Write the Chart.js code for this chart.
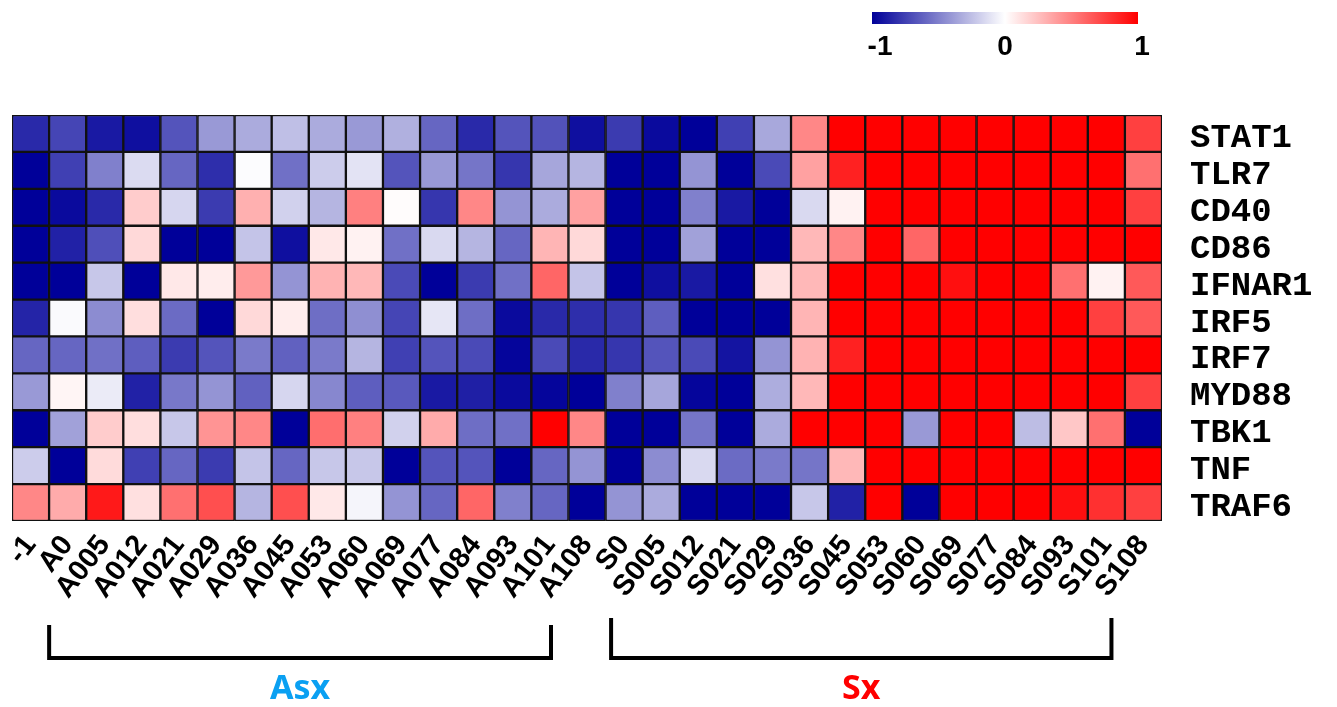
<!DOCTYPE html>
<html>
<head>
<meta charset="utf-8">
<style>
  html, body { margin: 0; padding: 0; background: #fff; }
</style>
</head>
<body>
<canvas id="heat" width="1337" height="707"></canvas>
<script src="https://cdn.jsdelivr.net/npm/chart.js@4.4.0/dist/chart.umd.min.js"></script>
<script>
// samples (columns) and genes (rows)
const samples = ['-1', 'A0', 'A005', 'A012', 'A021', 'A029', 'A036', 'A045', 'A053', 'A060', 'A069', 'A077', 'A084', 'A093', 'A101', 'A108',
  'S0', 'S005', 'S012', 'S021', 'S029', 'S036', 'S045', 'S053', 'S060', 'S069', 'S077', 'S084', 'S093', 'S101', 'S108'];
const genes = ['STAT1', 'TLR7', 'CD40', 'CD86', 'IFNAR1', 'IRF5', 'IRF7', 'MYD88', 'TBK1', 'TNF', 'TRAF6'];

// correlation values, -1 .. 1
const stat1  = [-0.84, -0.73, -0.9, -0.94, -0.67, -0.4, -0.33, -0.25, -0.33, -0.4, -0.31, -0.6, -0.84, -0.67, -0.68, -0.94, -0.77, -0.96, -1, -0.75, -0.34, 0.47, 1, 1, 1, 1, 1, 1, 1, 1, 0.75];
const tlr7   = [-1, -0.75, -0.5, -0.14, -0.6, -0.82, -0.01, -0.56, -0.2, -0.11, -0.67, -0.4, -0.54, -0.79, -0.35, -0.29, -1, -1, -0.42, -1, -0.71, 0.37, 0.87, 1, 1, 1, 1, 1, 1, 1, 0.56];
const cd40   = [-1, -0.96, -0.84, 0.2, -0.16, -0.77, 0.31, -0.18, -0.29, 0.5, 0.01, -0.79, 0.47, -0.42, -0.33, 0.37, -1, -1, -0.5, -0.9, -1, -0.15, 0.05, 1, 1, 1, 1, 1, 1, 1, 0.75];
const cd86   = [-1, -0.87, -0.69, 0.15, -1, -1, -0.23, -0.94, 0.09, 0.05, -0.56, -0.15, -0.29, -0.6, 0.29, 0.15, -1, -1, -0.37, -1, -1, 0.28, 0.47, 1, 0.6, 1, 1, 1, 1, 1, 1];
const ifnar1 = [-1, -1, -0.22, -1, 0.09, 0.07, 0.4, -0.42, 0.3, 0.28, -0.71, -1, -0.77, -0.56, 0.6, -0.23, -1, -0.94, -0.9, -1, 0.12, 0.28, 1, 1, 1, 0.94, 1, 1, 0.56, 0.05, 0.65];
const irf5   = [-0.86, -0.02, -0.45, 0.13, -0.58, -1, 0.15, 0.07, -0.57, -0.44, -0.73, -0.1, -0.57, -0.96, -0.84, -0.82, -0.79, -0.63, -1, -1, -1, 0.29, 1, 1, 1, 1, 1, 1, 1, 0.75, 0.65];
const irf7   = [-0.6, -0.6, -0.56, -0.63, -0.77, -0.67, -0.52, -0.62, -0.52, -0.29, -0.75, -0.67, -0.71, -0.98, -0.71, -0.84, -0.79, -0.67, -0.71, -0.92, -0.42, 0.3, 0.87, 1, 1, 1, 1, 1, 1, 1, 1];
const myd88  = [-0.4, 0.04, -0.08, -0.87, -0.53, -0.42, -0.62, -0.16, -0.47, -0.63, -0.65, -0.9, -0.88, -0.96, -0.98, -1, -0.5, -0.35, -0.98, -1, -0.32, 0.28, 1, 1, 1, 1, 1, 1, 1, 1, 0.75];
const tbk1   = [-1, -0.37, 0.2, 0.13, -0.22, 0.42, 0.47, -1, 0.57, 0.5, -0.18, 0.33, -0.57, -0.56, 1, 0.47, -1, -1, -0.54, -1, -0.33, 1, 1, 1, -0.4, 1, 1, -0.26, 0.22, 0.56, -1];
const tnf    = [-0.2, -1, 0.14, -0.75, -0.6, -0.77, -0.23, -0.6, -0.22, -0.22, -1, -0.67, -0.67, -1, -0.6, -0.42, -1, -0.45, -0.15, -0.58, -0.52, -0.54, 0.28, 1, 1, 1, 1, 1, 1, 1, 1];
const traf6  = [0.47, 0.33, 0.9, 0.12, 0.56, 0.69, -0.29, 0.69, 0.09, -0.04, -0.42, -0.6, 0.6, -0.5, -0.6, -1, -0.42, -0.33, -1, -1, -1, -0.22, -0.87, 1, -1, 1, 1, 1, 0.94, 0.81, 0.75];

const rows = [stat1, tlr7, cd40, cd86, ifnar1, irf5, irf7, myd88, tbk1, tnf, traf6];
const colorTicks = [-1, 0, 1];

// blue - white - red
function heatColor(v) {
  v = Math.max(-1, Math.min(1, v));
  if (v < 0) {
    const t = -v;
    const c = Math.round(255 * (1 - t));
    return `rgb(${c},${c},${Math.round(255 - 102 * t)})`;
  }
  const c = Math.round(255 * (1 - v));
  return `rgb(255,${c},${c})`;
}

const datasets = rows.map((vals, r) => ({
  label: genes[r],
  data: vals.map(() => [r - 0.5, r + 0.5]),
  backgroundColor: vals.map(heatColor),
  borderColor: '#111',
  borderWidth: 1.5,
  borderSkipped: false,
  barPercentage: 1,
  categoryPercentage: 1,
  grouped: false
}));

// colour bar, brackets and group names
const extras = {
  id: 'extras',
  afterDraw(chart) {
    const ctx = chart.ctx;
    const x = chart.scales.x;
    ctx.save();

    // colour bar
    const bx0 = 872, bx1 = 1138;
    const grad = ctx.createLinearGradient(bx0, 0, bx1, 0);
    for (let i = 0; i <= 20; i++) {
      grad.addColorStop(i / 20, heatColor(-1 + i / 10));
    }
    ctx.fillStyle = grad;
    ctx.fillRect(bx0, 12, bx1 - bx0, 12);
    ctx.fillStyle = '#000';
    ctx.font = 'bold 28px "Liberation Sans", Arial, sans-serif';
    ctx.textAlign = 'center';
    ctx.textBaseline = 'middle';
    colorTicks.forEach(t => {
      const px = bx0 + (t + 1) / 2 * (bx1 - bx0);
      ctx.fillText(String(t), px + (t === 1 ? 4 : 0) + (t === -1 ? 8 : 0), 47);
    });

    // brackets
    ctx.strokeStyle = '#000';
    ctx.lineWidth = 4;
    const brackets = [
      { l: x.getPixelForValue(1) - 18.5, r: x.getPixelForValue(15) - 36, top: 625, text: 'Asx', color: '#0aa0f2' },
      { l: x.getPixelForValue(16) - 13, r: x.getPixelForValue(30) - 32, top: 618, text: 'Sx', color: '#ff0000' }
    ];
    brackets.forEach(b => {
      ctx.beginPath();
      ctx.moveTo(b.l, b.top);
      ctx.lineTo(b.l, 658);
      ctx.lineTo(b.r, 658);
      ctx.lineTo(b.r, b.top);
      ctx.stroke();
      ctx.fillStyle = b.color;
      ctx.font = 'bold 34px "Noto Sans", "Open Sans", sans-serif';
      ctx.fillText(b.text, (b.l + b.r) / 2, 689);
    });
    ctx.restore();
  }
};

new Chart(document.getElementById('heat'), {
  type: 'bar',
  data: { labels: samples, datasets },
  options: {
    responsive: false,
    animation: false,
    devicePixelRatio: 1,
    layout: { padding: { left: 12, top: 115, right: 0, bottom: 0 } },
    plugins: { legend: { display: false }, tooltip: { enabled: false } },
    scales: {
      x: {
        type: 'category',
        offset: true,
        grid: { display: false, drawTicks: false },
        border: { display: false },
        ticks: {
          autoSkip: false,
          minRotation: 52,
          maxRotation: 52,
          padding: 8,
          color: '#000',
          font: { family: '"Liberation Sans", Arial, sans-serif', size: 29, weight: 'bold' }
        },
        afterFit(s) { s.height = 186; }
      },
      y: {
        type: 'linear',
        position: 'right',
        min: -0.5,
        max: 10.5,
        reverse: true,
        grid: { display: false, drawTicks: false },
        border: { display: false },
        afterBuildTicks(s) { s.ticks = genes.map((g, i) => ({ value: i })); },
        ticks: {
          autoSkip: false,
          padding: 28,
          labelOffset: 5,
          color: '#000',
          callback: v => genes[v],
          font: { family: '"Courier New", "Liberation Mono", monospace', size: 34, weight: 'bold' }
        },
        afterFit(s) { s.width = 175; }
      }
    }
  },
  plugins: [extras]
});
</script>
</body>
</html>
